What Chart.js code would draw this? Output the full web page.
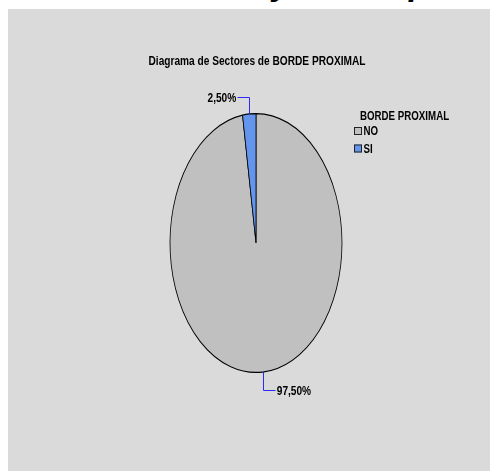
<!DOCTYPE html>
<html>
<head>
<meta charset="utf-8">
<script src="https://cdn.jsdelivr.net/npm/chart.js@4/dist/chart.umd.min.js"></script>
<style>
  html, body { margin: 0; padding: 0; background: #ffffff; }
  #wrap { position: relative; width: 490px; height: 471px; overflow: hidden; }
  #panel { position: absolute; left: 8px; top: 9px; width: 482px; height: 462px; background: #dadada; }
  #cut { position: absolute; top: -36px; left: 0; width: 490px; height: 40px;
         font: italic bold 34px "Liberation Sans", Arial, sans-serif; color: #000; }
  #cut span { position: absolute; top: 0; }
  canvas { position: absolute; left: 0; top: 0; }
</style>
</head>
<body>
<div id="wrap">
  <div id="cut"><span style="left:272px">y</span><span style="left:409px">p</span></div>
  <div id="panel"></div>
  <canvas id="pieChart" width="490" height="471"></canvas>
</div>
<script>
var categories = ['NO', 'SI'];
var values = [97.5, 2.5];
var pctLabels = ['97,50%', '2,50%'];
var colors = ['#c0c0c0', '#6495ed'];
var chartTitle = 'Diagrama de Sectores de BORDE PROXIMAL';
var legendTitle = 'BORDE PROXIMAL';

var FAMILY = '"Liberation Sans", Arial, sans-serif';
var SY = 1.505; // vertical stretch of the pie (ellipse)

// fake Arial Narrow by squeezing Liberation Sans bold
function narrowText(ctx, text, x, y, align, size, sx) {
    ctx.save();
    ctx.translate(x, y);
    ctx.scale(sx || 0.78, 1);
    ctx.font = 'bold ' + (size || 13) + 'px ' + FAMILY;
    ctx.fillStyle = '#000';
    ctx.textAlign = align;
    ctx.textBaseline = 'middle';
    ctx.fillText(text, 0, 0);
    ctx.restore();
}

// squash the pie into an ellipse
var ellipsePlugin = {
    id: 'ellipse',
    beforeDatasetsDraw: function (chart) {
        var arc = chart.getDatasetMeta(0).data[0];
        var ctx = chart.ctx;
        ctx.save();
        ctx.translate(arc.x, arc.y);
        ctx.scale(1, SY);
        ctx.translate(-arc.x, -arc.y);
    },
    afterDatasetsDraw: function (chart) {
        chart.ctx.restore();
    }
};

// title, leader-line labels and legend
var extrasPlugin = {
    id: 'extras',
    afterDraw: function (chart) {
        var ctx = chart.ctx;
        var meta = chart.getDatasetMeta(0);

        narrowText(ctx, chartTitle, 257, 61, 'center');

        // percentage labels with elbow leader lines
        meta.data.forEach(function (arc, i) {
            var a = (arc.startAngle + arc.endAngle) / 2;
            var r = arc.outerRadius;
            var px = arc.x + r * Math.cos(a);
            var py = arc.y + r * SY * Math.sin(a);
            var dy = Math.sin(a) < 0 ? -17 : 18;
            var dx = Math.cos(a) < 0 ? -12 : 12;
            ctx.save();
            ctx.strokeStyle = '#2a2aff';
            ctx.lineWidth = 1;
            ctx.beginPath();
            ctx.moveTo(Math.round(px) + 0.5, py);
            ctx.lineTo(Math.round(px) + 0.5, Math.round(py + dy) + 0.5);
            ctx.lineTo(Math.round(px + dx) + 0.5, Math.round(py + dy) + 0.5);
            ctx.stroke();
            ctx.restore();
            narrowText(ctx, pctLabels[i], px + dx + (dx < 0 ? -1 : 2), py + dy + 1, dx < 0 ? 'right' : 'left');
        });

        // legend
        narrowText(ctx, legendTitle, 360, 116.5, 'left', 12, 0.81);
        var rows = [131, 148.5];
        categories.forEach(function (c, i) {
            ctx.save();
            ctx.fillStyle = colors[i];
            ctx.fillRect(354, rows[i] - 4, 8, 8);
            ctx.strokeStyle = '#222';
            ctx.lineWidth = 1;
            ctx.strokeRect(354.5, rows[i] - 3.5, 7, 7);
            ctx.restore();
            narrowText(ctx, c, 363.5, rows[i] + 1, 'left', 12, 0.81);
        });
    }
};

var ctx = document.getElementById('pieChart').getContext('2d');
var chart = new Chart(ctx, {
    type: 'pie',
    data: {
        labels: categories,
        datasets: [{
            data: values,
            backgroundColor: colors,
            borderColor: '#000',
            borderWidth: 0.8
        }]
    },
    options: {
        responsive: false,
        animation: false,
        radius: 86,
        layout: {
            padding: { left: 170, right: 148, top: 157, bottom: 142 }
        },
        plugins: {
            legend: { display: false },
            title: { display: false },
            tooltip: { enabled: false }
        }
    },
    plugins: [ellipsePlugin, extrasPlugin]
});
</script>
</body>
</html>
